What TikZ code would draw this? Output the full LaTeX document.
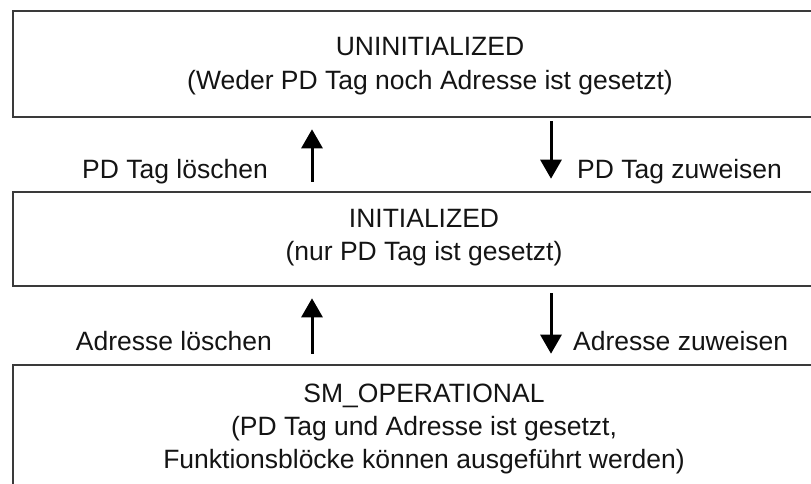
\documentclass[tikz,border=0pt]{standalone}
\usepackage{fontspec}
\setmainfont{Liberation Sans}
\usetikzlibrary{arrows.meta}
\definecolor{boxline}{HTML}{3A3A3A}
\definecolor{ink}{HTML}{141414}
\tikzset{
  statebox/.style={draw=boxline, line width=2.6pt, rectangle, inner sep=0pt, minimum width=837pt},
  line/.style={anchor=base, inner sep=0pt, text=ink, font=\fontsize{26.5}{34}\selectfont},
  trans/.style={draw=black, line width=3pt, -{Triangle[width=21pt,length=19pt]}},
}
\begin{document}
\begin{tikzpicture}[x=1pt, y=-1pt]
  \useasboundingbox (0,0) rectangle (811,483);
  \clip (0,0) rectangle (811,483);
  \fill[white] (0,0) rectangle (811,483);

  % state boxes (their right sides and the lower edge of the last run off the page)
  \node[statebox, minimum height=106pt] (uninit) at (431.5,64) {};
  \node[statebox, minimum height=94pt]  (init)   at (431.5,239) {};
  \node[statebox, minimum height=135pt] (oper)   at (431.5,432.5) {};

  % state texts
  \node[line] (uninitA) at (430,55) {UNINITIALIZED};
  \node[line] (uninitB) at (430,89) {(Weder PD Tag noch Adresse ist gesetzt)};
  \node[line] (initA)   at (424,227) {INITIALIZED};
  \node[line] (initB)   at (424,260) {(nur PD Tag ist gesetzt)};
  \node[line] (operA)   at (424,402) {SM\_OPERATIONAL};
  \node[line] (operB)   at (424,435) {(PD Tag und Adresse ist gesetzt,};
  \node[line] (operC)   at (424,468) {Funktionsblöcke können ausgeführt werden)};

  % columns of the transition arrows
  \coordinate (upx) at (312,0);
  \coordinate (dnx) at (551,0);

  % transitions
  \draw[trans, shorten <=9pt, shorten >=11pt] (init.north -| upx) -- (uninit.south -| upx);
  \draw[trans, shorten <=3pt, shorten >=12pt] (uninit.south -| dnx) -- (init.north -| dnx);
  \draw[trans, shorten <=10pt, shorten >=11pt] (oper.north -| upx) -- (init.south -| upx);
  \draw[trans, shorten <=6pt, shorten >=10pt] (init.south -| dnx) -- (oper.north -| dnx);

  % transition labels
  \node[line, anchor=base east] (lblA) at (268,178) {PD Tag löschen};
  \node[line, anchor=base west] (lblB) at (577,178) {PD Tag zuweisen};
  \node[line, anchor=base east] (lblC) at (272,350) {Adresse löschen};
  \node[line, anchor=base west] (lblD) at (573,350) {Adresse zuweisen};
\end{tikzpicture}
\end{document}
